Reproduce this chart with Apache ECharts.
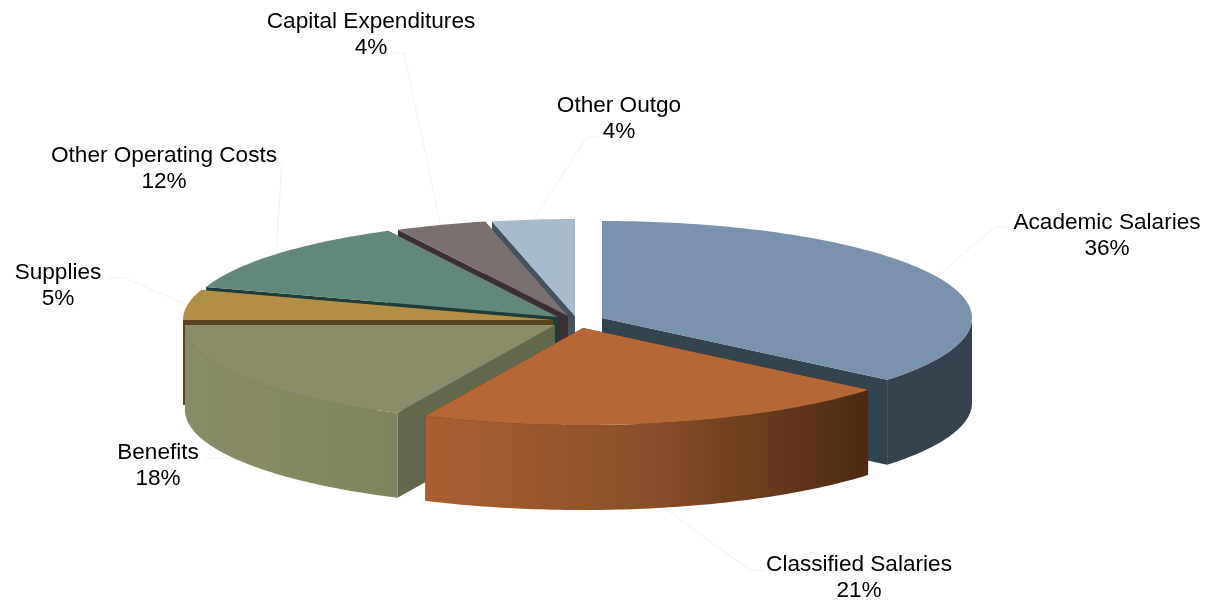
<!DOCTYPE html>
<html>
<head>
<meta charset="utf-8">
<title>Expenditures</title>
<style>
html, body { margin: 0; padding: 0; background: #fff; }
#main { width: 1207px; height: 600px; }
</style>
<script src="https://cdn.jsdelivr.net/npm/echarts@6/dist/echarts.min.js"></script>
</head>
<body>
<div id="main"></div>
<script>
// percent shares, clockwise from 12 o'clock. labels print them rounded;
// the last three are read from the slice edges, not only from the labels
var categories = ['Academic Salaries', 'Classified Salaries', 'Benefits', 'Supplies', 'Other Operating Costs', 'Capital Expenditures', 'Other Outgo'];
var shares = [36, 21, 18, 5, 12.4, 4, 3.6];

// slice colours
var topColors = ['#7893ab', '#b56835', '#8a8c6b', '#b28f47', '#64877c', '#7a7070', '#a8bace'];
var wallColors = ['#33444f', '#4e2a14', '#62684c', '#5c4320', '#1f3d38', '#3b2f33', '#45535f'];
var rimStops = [
    ['#36434e', '#36434e'],
    ['#aa5e31', '#8a5029', '#4c2913'],
    ['#888b6a', '#85895f', '#7f845f'],
    ['#5c4320', '#5c4320'],
    ['#1f3d38', '#1f3d38'],
    ['#3b2f33', '#3b2f33'],
    ['#45535f', '#45535f']
];

// layout: apex of each exploded slice, label position, leader line bends
var apexX = [602, 583, 555, 553, 558, 568, 575];
var apexY = [318, 328, 325, 320, 317, 316, 316];
var labelX = [1107, 859, 158, 58, 164, 371, 619];
var labelY = [236, 578, 466, 286, 169, 35, 119];
var stubX = [1013, 765, 205, 107, 277, 386, 600];
var elbowX = [995, 750, 230, 125, 282, 404, 587];
var elbowY = [227, 570, 458, 278, 163, 53, 137];
var RX = 370, RY = 97, DEPTH = 85;

// running start/end angle of every slice
var total = 0, i;
for (i = 0; i < shares.length; i++) total += shares[i];
var startDeg = [], endDeg = [], run = 0;
for (i = 0; i < shares.length; i++) {
    startDeg.push(run / total * 360);
    run += shares[i];
    endDeg.push(run / total * 360);
}

function rimPoint(idx, deg, drop) {
    var a = deg * Math.PI / 180;
    return [apexX[idx] + RX * Math.sin(a), apexY[idx] - RY * Math.cos(a) + (drop || 0)];
}

function arcPoints(idx, from, to, drop) {
    var pts = [], d = from;
    while (d < to) {
        pts.push(rimPoint(idx, d, drop));
        d += 1;
    }
    pts.push(rimPoint(idx, to, drop));
    return pts;
}

function radialWall(idx, deg) {
    var p = rimPoint(idx, deg, 0);
    return {
        type: 'polygon',
        shape: { points: [[apexX[idx], apexY[idx]], p, [p[0], p[1] + DEPTH], [apexX[idx], apexY[idx] + DEPTH]] },
        style: { fill: wallColors[idx] }
    };
}

function rimWall(idx) {
    // only the part facing the viewer, 90deg to 270deg
    var from = Math.max(startDeg[idx], 90), to = Math.min(endDeg[idx], 270);
    if (from >= to) return null;
    var stops = rimStops[idx].map(function (c, n, all) {
        return { offset: n / (all.length - 1), color: c };
    });
    return {
        type: 'polygon',
        shape: { points: arcPoints(idx, from, to, 0).concat(arcPoints(idx, from, to, DEPTH).reverse()) },
        style: { fill: { type: 'linear', x: 0, y: 0, x2: 1, y2: 0, colorStops: stops } }
    };
}

function renderSlice(params, api) {
    var idx = api.value(0);
    var mid = (startDeg[idx] + endDeg[idx]) / 2;
    var front = Math.cos(mid * Math.PI / 180) < 0;
    var anchor = rimPoint(idx, mid, front ? DEPTH : 0);
    var children = [];

    // leader line, very pale in the original
    children.push({
        type: 'polyline',
        shape: { points: [[stubX[idx], elbowY[idx]], [elbowX[idx], elbowY[idx]], anchor] },
        style: { fill: null, stroke: '#f0f0f0', lineWidth: 1 }
    });

    children.push(radialWall(idx, startDeg[idx]));
    children.push(radialWall(idx, endDeg[idx]));
    var rim = rimWall(idx);
    if (rim) children.push(rim);
    children.push({
        type: 'polygon',
        shape: { points: [[apexX[idx], apexY[idx]]].concat(arcPoints(idx, startDeg[idx], endDeg[idx], 0)) },
        style: { fill: topColors[idx] }
    });
    return { type: 'group', children: children };
}

function renderLabel(params, api) {
    var idx = api.value(0);
    return {
        type: 'text',
        style: {
            text: categories[idx] + '\n' + Math.round(shares[idx]) + '%',
            x: labelX[idx],
            y: labelY[idx],
            align: 'center',
            verticalAlign: 'middle',
            fill: '#000',
            font: '22.6px "Liberation Sans", Arial, sans-serif',
            lineHeight: 26
        }
    };
}

// painter's order: slices further back go first
var drawOrder = categories.map(function (c, n) { return n; }).sort(function (a, b) {
    var ma = (startDeg[a] + endDeg[a]) / 2 * Math.PI / 180;
    var mb = (startDeg[b] + endDeg[b]) / 2 * Math.PI / 180;
    return Math.cos(mb) - Math.cos(ma);
});
var seriesData = drawOrder.map(function (n) { return [n, shares[n]]; });

var myChart = echarts.init(document.getElementById('main'));
var option = {
    animation: false,
    backgroundColor: '#ffffff',
    series: [
        { type: 'custom', coordinateSystem: 'none', renderItem: renderSlice, data: seriesData, silent: true, z: 1 },
        { type: 'custom', coordinateSystem: 'none', renderItem: renderLabel, data: seriesData, silent: true, z: 2 }
    ]
};
myChart.setOption(option);
</script>
</body>
</html>
